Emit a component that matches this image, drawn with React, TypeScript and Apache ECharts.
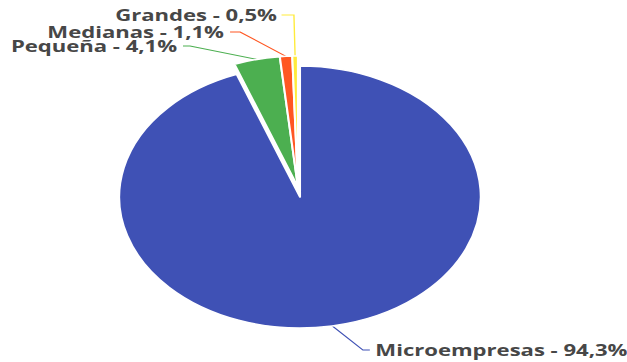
import React, { useEffect, useRef } from "react";
import * as echarts from "echarts";

const categories = ["Microempresas", "Pequeña", "Medianas", "Grandes"];
const shares = [94.3, 4.1, 1.1, 0.5];
const colors = ["#3F51B5", "#4CAF50", "#FF5722", "#FFEB3B"];
const exploded = [false, true, true, true];

const SX = 1.38;
const W = 627;
const H = 362;
const IW = Math.round(W / SX) + 1;

// label anchor positions (in unstretched coords): [x, y, align, bendX, endX]
const labelSpots: Record<string, [number, number, string, number, number]> = {
  Microempresas: [272, 350, "left", 263, 268],
  "Pequeña": [128.3, 46, "right", 137.7, 132.6],
  Medianas: [162.3, 32, "right", 174, 166.7],
  Grandes: [200.7, 15, "right", 213, 204],
};

const CX = 300 / SX;
const CY = 197;
const R = 131;
const EXPLODE_DX = -1.5;
const EXPLODE_DY = -10;

function makeSeries(showExploded: boolean) {
  return {
    type: "pie",
    center: showExploded ? [CX + EXPLODE_DX, CY + EXPLODE_DY] : [CX, CY],
    radius: R,
    startAngle: 90,
    clockwise: true,
    silent: true,
    emphasis: { disabled: true },
    label: {
      show: true,
      position: "outside",
      fontFamily: "Open Sans",
      fontWeight: "bold",
      fontSize: 16,
      lineHeight: 13,
      color: "#474747",
      overflow: "none",
      formatter: (p: any) => `${p.name} - ${Number(p.value).toFixed(1).replace(".", ",")}%`,
    },
    labelLine: { show: true, lineStyle: { width: 1 } },
    labelLayout: (params: any) => {
      const name = categories[params.dataIndex];
      const s = labelSpots[name];
      const p0 = params.labelLinePoints ? params.labelLinePoints[0] : [s[3], s[1]];
      return {
        x: s[0],
        y: s[1],
        align: s[2],
        verticalAlign: "middle",
        labelLinePoints: [p0, [s[3], s[1]], [s[4], s[1]]],
      };
    },
    data: categories.map((c, i) => {
      const visible = exploded[i] === showExploded;
      return {
        name: c,
        value: shares[i],
        itemStyle: visible
          ? { color: colors[i], borderColor: "#ffffff", borderWidth: 1.5 }
          : { color: "rgba(0,0,0,0)", borderWidth: 0 },
        label: { show: visible },
        labelLine: { show: visible, lineStyle: { color: colors[i] } },
      };
    }),
  };
}

export default function App() {
  const ref = useRef<HTMLDivElement>(null);
  useEffect(() => {
    if (!ref.current) return;
    const chart = echarts.init(ref.current, null, { renderer: "svg", width: IW, height: H });
    chart.setOption({
      animation: false,
      series: [makeSeries(false), makeSeries(true)],
    });
    return () => chart.dispose();
  }, []);
  return (
    <div style={{ position: "fixed", left: 0, top: 0, width: W, height: H, overflow: "hidden", background: "#fff" }}>
      <div
        ref={ref}
        style={{ width: IW, height: H, transform: `scaleX(${SX})`, transformOrigin: "0 0" }}
      />
    </div>
  );
}
